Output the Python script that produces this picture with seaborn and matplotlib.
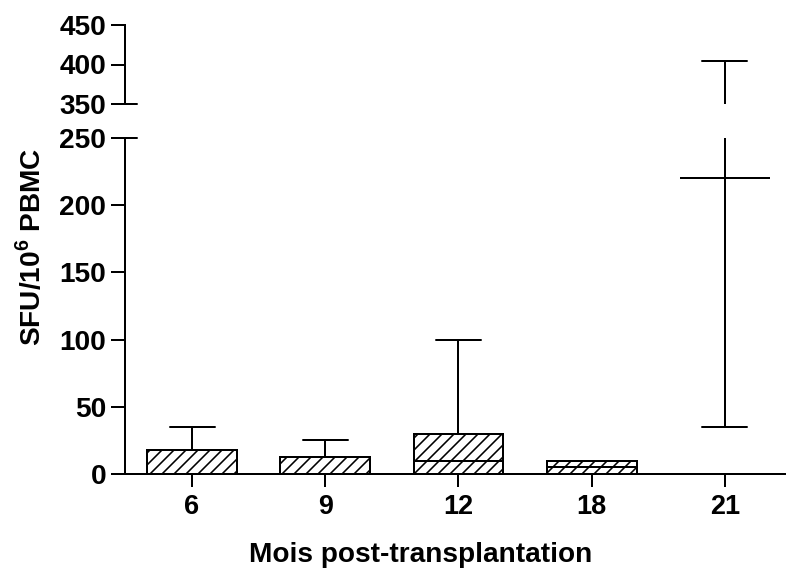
import numpy as np
import pandas as pd
import matplotlib
matplotlib.use("Agg")
import matplotlib.pyplot as plt
import seaborn as sns

# ---- data (five-number summaries) ----
months = ["6", "9", "12", "18", "21"]
whisker_low = [0, 0, 0, 0, 35]
q1 = [0, 0, 0, 0, 220]
median = [0, 0, 10, 5, 220]
q3 = [18, 13, 30, 10, 220]
whisker_high = [35, 25, 100, 10, 405]

lower_ticks = [0, 50, 100, 150, 200, 250]
upper_ticks = [350, 400, 450]

rows = []
for m, a, b, c, d, e in zip(months, whisker_low, q1, median, q3, whisker_high):
    for v in (a, b, c, d, e):
        rows.append({"month": m, "sfu": v})
df = pd.DataFrame(rows)

sns.set_theme(style="ticks")
plt.rcParams["font.family"] = ["Liberation Sans", "DejaVu Sans"]
plt.rcParams["font.weight"] = "bold"
plt.rcParams["mathtext.fontset"] = "custom"
plt.rcParams["mathtext.rm"] = "Liberation Sans:bold"
plt.rcParams["mathtext.bf"] = "Liberation Sans:bold"
plt.rcParams["hatch.linewidth"] = 1.6
plt.rcParams["hatch.color"] = "black"
for k in ("text.color", "axes.labelcolor", "xtick.color", "ytick.color",
          "axes.edgecolor", "xtick.labelcolor", "ytick.labelcolor"):
    plt.rcParams[k] = "black"

DPI = 72
W, H = 786, 568
fig = plt.figure(figsize=(W / DPI, H / DPI), dpi=DPI)
fig.patch.set_facecolor("white")

left = 125 / W
ax_lo = fig.add_axes([left, 1 - 474 / H, 1 - left, (474 - 138) / H])
ax_hi = fig.add_axes([left, 1 - 104 / H, 1 - left, (104 - 25) / H], sharex=ax_lo)

lw = 2.0
for ax in (ax_lo, ax_hi):
    sns.boxplot(data=df, x="month", y="sfu", order=months, ax=ax,
                color="white", saturation=1, linecolor="black", linewidth=lw,
                width=0.675, whis=(0, 100), showfliers=False,
                medianprops=dict(color="black", linewidth=lw),
                capprops=dict(color="black", linewidth=lw),
                whiskerprops=dict(color="black", linewidth=lw))
    for p in ax.patches:
        p.set_hatch("//")
        p.set_edgecolor("black")
        p.set_linewidth(lw)
    ax.set_facecolor("white")
    ax.grid(False)
    ax.set_xlabel("")
    ax.set_ylabel("")
    for s in ("top", "right"):
        ax.spines[s].set_visible(False)
    ax.spines["left"].set_linewidth(lw)
    ax.spines["bottom"].set_linewidth(lw)
    ax.spines["left"].set_color("black")
    ax.spines["bottom"].set_color("black")
    ax.tick_params(axis="y", length=14, width=lw, pad=5, labelsize=28,
                   color="black", labelcolor="black")

ax_lo.set_xlim(-0.503, 4.458)
ax_lo.set_ylim(0, 250)
ax_lo.set_yticks(lower_ticks)
ax_lo.tick_params(axis="x", length=13, width=lw, pad=7, labelsize=27,
                  color="black", labelcolor="black")
for t in ax_lo.get_xticklabels() + ax_lo.get_yticklabels():
    t.set_fontweight("bold")

ax_hi.set_ylim(350, 450)
ax_hi.set_yticks(upper_ticks)
ax_hi.spines["bottom"].set_visible(False)
ax_hi.tick_params(axis="x", bottom=False, labelbottom=False)
for t in ax_hi.get_yticklabels():
    t.set_fontweight("bold")

# break marks crossing the spine
frac = 12 / (W - 125)
ax_hi.axhline(350, xmin=0, xmax=frac, color="black", linewidth=lw, clip_on=False)
ax_lo.axhline(250, xmin=0, xmax=frac, color="black", linewidth=lw, clip_on=False)

fig.text(31 / W, 1 - 247 / H, r"SFU/10$^{6}$ PBMC", rotation=90,
         ha="center", va="center", fontsize=28, fontweight="bold", color="black")
fig.text(421 / W, 1 - 562 / H, "Mois post-transplantation",
         ha="center", va="baseline", fontsize=28, fontweight="bold", color="black")

fig.savefig("out.png", dpi=DPI, facecolor="white")
